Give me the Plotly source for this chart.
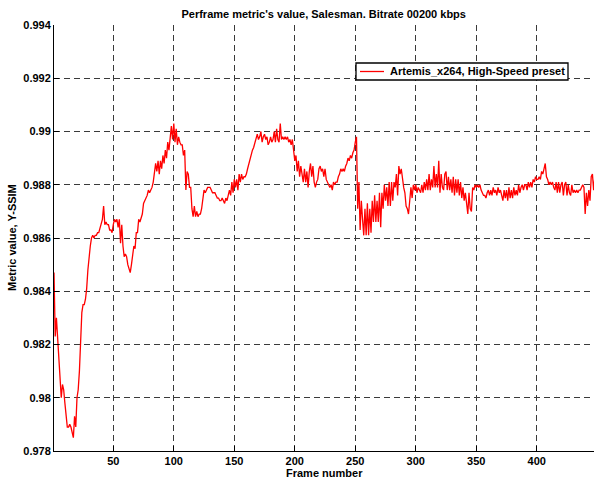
import plotly.graph_objects as go

# Per-frame Y-SSIM values (frames 1..448)
ssim = [
    # 1-10
    0.9847, 0.9823, 0.9830, 0.9823, 0.9815, 0.9806, 0.9800, 0.9805, 0.9803, 0.9798,
    # 11-20
    0.9792, 0.9789, 0.9789, 0.9790, 0.9789, 0.9787, 0.9785, 0.9793, 0.9789, 0.9800,
    # 21-30
    0.9803, 0.9810, 0.9820, 0.9832, 0.9835, 0.9835, 0.9837, 0.9841, 0.9848, 0.9854,
    # 31-40
    0.9857, 0.9860, 0.9861, 0.9860, 0.9861, 0.9861, 0.9862, 0.9862, 0.9864, 0.9865,
    # 41-50
    0.9867, 0.9872, 0.9865, 0.9866, 0.9865, 0.9865, 0.9863, 0.9863, 0.9862, 0.9865,
    # 51-60
    0.9867, 0.9866, 0.9867, 0.9864, 0.9867, 0.9858, 0.9865, 0.9857, 0.9853, 0.9854,
    # 61-70
    0.9853, 0.9850, 0.9848, 0.9847, 0.9850, 0.9854, 0.9857, 0.9856, 0.9862, 0.9862,
    # 71-80
    0.9867, 0.9866, 0.9868, 0.9869, 0.9873, 0.9874, 0.9875, 0.9876, 0.9878, 0.9877,
    # 81-90
    0.9878, 0.9879, 0.9881, 0.9884, 0.9888, 0.9885, 0.9889, 0.9884, 0.9889, 0.9886,
    # 91-100
    0.9891, 0.9888, 0.9893, 0.9890, 0.9896, 0.9893, 0.9899, 0.9902, 0.9897, 0.9903,
    # 101-110
    0.9896, 0.9901, 0.9895, 0.9898, 0.9896, 0.9895, 0.9895, 0.9891, 0.9893, 0.9878,
    # 111-120
    0.9885, 0.9884, 0.9879, 0.9879, 0.9871, 0.9868, 0.9872, 0.9868, 0.9870, 0.9868,
    # 121-130
    0.9869, 0.9869, 0.9871, 0.9876, 0.9878, 0.9877, 0.9878, 0.9879, 0.9879, 0.9879,
    # 131-140
    0.9878, 0.9877, 0.9877, 0.9877, 0.9876, 0.9875, 0.9875, 0.9874, 0.9874, 0.9875,
    # 141-150
    0.9874, 0.9873, 0.9875, 0.9874, 0.9876, 0.9878, 0.9876, 0.9881, 0.9877, 0.9882,
    # 151-160
    0.9879, 0.9882, 0.9878, 0.9884, 0.9881, 0.9884, 0.9882, 0.9883, 0.9883, 0.9884,
    # 161-170
    0.9886, 0.9888, 0.9890, 0.9891, 0.9893, 0.9894, 0.9896, 0.9897, 0.9899, 0.9897,
    # 171-180
    0.9898, 0.9900, 0.9896, 0.9898, 0.9899, 0.9897, 0.9898, 0.9895, 0.9896, 0.9898,
    # 181-190
    0.9896, 0.9897, 0.9900, 0.9896, 0.9901, 0.9897, 0.9896, 0.9903, 0.9897, 0.9898,
    # 191-200
    0.9897, 0.9898, 0.9897, 0.9898, 0.9896, 0.9897, 0.9895, 0.9897, 0.9892, 0.9889,
    # 201-210
    0.9891, 0.9885, 0.9889, 0.9883, 0.9887, 0.9884, 0.9881, 0.9886, 0.9881, 0.9885,
    # 211-220
    0.9879, 0.9885, 0.9888, 0.9883, 0.9887, 0.9881, 0.9879, 0.9881, 0.9882, 0.9886,
    # 221-230
    0.9887, 0.9885, 0.9886, 0.9883, 0.9886, 0.9882, 0.9881, 0.9880, 0.9879, 0.9880,
    # 231-240
    0.9878, 0.9881, 0.9880, 0.9881, 0.9881, 0.9883, 0.9884, 0.9886, 0.9885, 0.9886,
    # 241-250
    0.9885, 0.9887, 0.9888, 0.9890, 0.9889, 0.9891, 0.9890, 0.9892, 0.9893, 0.9896,
    # 251-260
    0.9898, 0.9871, 0.9881, 0.9863, 0.9874, 0.9867, 0.9861, 0.9871, 0.9861, 0.9873,
    # 261-270
    0.9861, 0.9871, 0.9862, 0.9874, 0.9866, 0.9876, 0.9866, 0.9874, 0.9866, 0.9877,
    # 271-280
    0.9864, 0.9877, 0.9871, 0.9880, 0.9874, 0.9879, 0.9872, 0.9881, 0.9872, 0.9881,
    # 281-290
    0.9874, 0.9881, 0.9879, 0.9884, 0.9876, 0.9887, 0.9884, 0.9886, 0.9882, 0.9879,
    # 291-300
    0.9877, 0.9872, 0.9871, 0.9869, 0.9874, 0.9879, 0.9875, 0.9880, 0.9878, 0.9880,
    # 301-310
    0.9877, 0.9879, 0.9878, 0.9877, 0.9880, 0.9877, 0.9881, 0.9878, 0.9882, 0.9878,
    # 311-320
    0.9884, 0.9878, 0.9882, 0.9879, 0.9887, 0.9879, 0.9884, 0.9879, 0.9889, 0.9877,
    # 321-330
    0.9884, 0.9879, 0.9878, 0.9884, 0.9885, 0.9878, 0.9883, 0.9878, 0.9882, 0.9877,
    # 331-340
    0.9883, 0.9876, 0.9882, 0.9877, 0.9882, 0.9876, 0.9881, 0.9875, 0.9879, 0.9874,
    # 341-350
    0.9877, 0.9873, 0.9869, 0.9877, 0.9871, 0.9870, 0.9879, 0.9878, 0.9880, 0.9879,
    # 351-360
    0.9880, 0.9879, 0.9880, 0.9878, 0.9877, 0.9876, 0.9876, 0.9875, 0.9877, 0.9878,
    # 361-370
    0.9876, 0.9878, 0.9876, 0.9879, 0.9877, 0.9878, 0.9876, 0.9879, 0.9877, 0.9878,
    # 371-380
    0.9876, 0.9874, 0.9878, 0.9875, 0.9878, 0.9874, 0.9879, 0.9875, 0.9878, 0.9875,
    # 381-390
    0.9879, 0.9876, 0.9878, 0.9876, 0.9880, 0.9877, 0.9879, 0.9880, 0.9878, 0.9880,
    # 391-400
    0.9880, 0.9878, 0.9881, 0.9879, 0.9881, 0.9879, 0.9882, 0.9881, 0.9883, 0.9882,
    # 401-410
    0.9882, 0.9883, 0.9882, 0.9885, 0.9884, 0.9886, 0.9888, 0.9883, 0.9882, 0.9880,
    # 411-420
    0.9881, 0.9880, 0.9881, 0.9879, 0.9878, 0.9881, 0.9877, 0.9881, 0.9877, 0.9880,
    # 421-430
    0.9881, 0.9876, 0.9880, 0.9881, 0.9876, 0.9880, 0.9877, 0.9876, 0.9880, 0.9877,
    # 431-440
    0.9878, 0.9877, 0.9878, 0.9877, 0.9878, 0.9878, 0.9879, 0.9880, 0.9879, 0.9869,
    # 441-448
    0.9877, 0.9872, 0.9878, 0.9874, 0.9883, 0.9884, 0.9878, 0.9883,
]
frames = list(range(1, len(ssim) + 1))

x_ticks = [50, 100, 150, 200, 250, 300, 350, 400]
y_ticks = [0.978, 0.980, 0.982, 0.984, 0.986, 0.988, 0.990, 0.992, 0.994]
y_tick_text = ["0.978", "0.98", "0.982", "0.984", "0.986", "0.988", "0.99", "0.992", "0.994"]

series_name = "Artemis_x264, High-Speed preset"
title_text = "Perframe metric's value, Salesman. Bitrate 00200 kbps"
x_title = "Frame number"
y_title = "Metric value, Y-SSIM"

FONT = "Liberation Sans, Arial, Helvetica, sans-serif"
W, H = 594, 479
ML, MR, MT, MB = 54, 0, 25, 28
PW, PH = W - ML - MR, H - MT - MB


def px_x(px):
    return (px - ML) / PW


def px_y(py):
    return (H - MB - py) / PH


fig = go.Figure()
fig.add_trace(go.Scatter(
    x=frames, y=ssim, mode="lines", name=series_name, showlegend=False,
    line=dict(color="#ff0000", width=1.3), hoverinfo="skip",
))

grid = dict(showgrid=True, gridcolor="#3a3a3a", gridwidth=1, griddash="6px,4px")
bold = dict(family=FONT, size=11, color="black", weight="bold")

# hand-built legend box (MATLAB style)
lg_x0, lg_x1, lg_y0, lg_y1 = 356, 568, 63, 80
shapes = [
    dict(type="rect", xref="paper", yref="paper",
         x0=px_x(lg_x0), x1=px_x(lg_x1), y0=px_y(lg_y1), y1=px_y(lg_y0),
         line=dict(color="black", width=1.3), fillcolor="white", layer="above"),
    dict(type="line", xref="paper", yref="paper",
         x0=px_x(360), x1=px_x(384), y0=px_y(71.5), y1=px_y(71.5),
         line=dict(color="#ff0000", width=1.3), layer="above"),
]

fig.update_layout(
    width=W, height=H,
    margin=dict(l=ML, r=MR, t=MT, b=MB),
    paper_bgcolor="white", plot_bgcolor="white",
    font=bold,
    title=dict(text=title_text, x=0.545, xanchor="center", y=1 - 14 / H, yanchor="middle",
               font=bold),
    showlegend=False,
    shapes=shapes,
    xaxis=dict(range=[1, 447.3], tickvals=x_ticks, ticks="inside", ticklen=5,
               tickcolor="black", showline=True, linecolor="black", linewidth=1,
               zeroline=False, tickfont=bold, automargin=False, **grid),
    yaxis=dict(range=[0.978, 0.994], tickvals=y_ticks, ticktext=y_tick_text,
               ticks="inside", ticklen=5, tickcolor="black", showline=True,
               linecolor="black", linewidth=1, zeroline=False,
               tickfont=bold, automargin=False, **grid),
    annotations=[
        dict(text=x_title, xref="paper", yref="paper", x=0.5, y=0, yshift=-22,
             xanchor="center", yanchor="middle", showarrow=False, font=bold),
        dict(text=y_title, xref="paper", yref="paper", x=-42 / PW, y=0.5,
             xanchor="center", yanchor="middle", textangle=-90, showarrow=False, font=bold),
        dict(text=series_name, xref="paper", yref="paper", x=px_x(388), y=px_y(71.5),
             xanchor="left", yanchor="middle", showarrow=False, font=bold),
    ],
)

fig.write_html(
    "out.html",
    config={"displayModeBar": False},
    post_script="document.body.style.margin='0';document.body.style.overflow='hidden';",
)
